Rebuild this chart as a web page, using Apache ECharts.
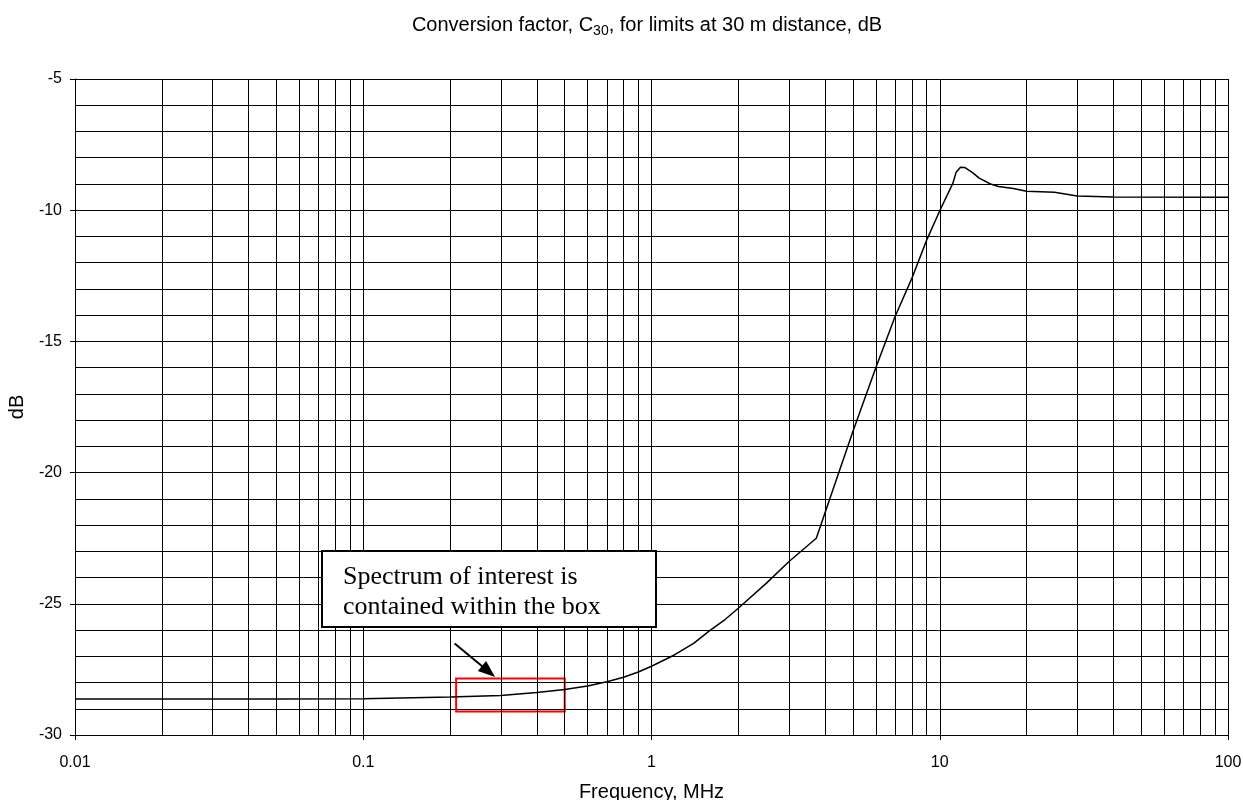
<!DOCTYPE html>
<html><head><meta charset="utf-8">
<script src="https://cdn.jsdelivr.net/npm/echarts@6/dist/echarts.min.js"></script>
<style>html,body{margin:0;padding:0;background:#fff}#c{width:1243px;height:800px}</style>
</head><body><div id="c"></div>
<script>
// ---- data ----
const freqMHz = [0.01, 0.02, 0.05, 0.1, 0.2, 0.3, 0.4, 0.5, 0.6, 0.7, 0.8, 0.9, 1, 1.2, 1.4, 1.6, 1.8, 2, 2.5, 3, 3.73, 5, 6, 7, 8, 9, 10, 11.1, 11.4, 11.8, 12.2, 13, 13.7, 15, 16, 18, 20, 25, 30, 40, 100];
const c30dB  = [-28.63, -28.63, -28.63, -28.62, -28.55, -28.49, -28.38, -28.27, -28.13, -27.97, -27.8, -27.6, -27.38, -26.95, -26.51, -26.0, -25.6, -25.17, -24.22, -23.39, -22.5, -18.42, -16.0, -14.05, -12.6, -11.15, -10.02, -8.98, -8.55, -8.36, -8.37, -8.57, -8.78, -9.0, -9.10, -9.17, -9.28, -9.32, -9.46, -9.50, -9.51];
const xTickValues = [0.01, 0.1, 1, 10, 100];
const xTickLabels = ['0.01', '0.1', '1', '10', '100'];
const xMinorGrid = [0.02, 0.03, 0.04, 0.05, 0.06, 0.07, 0.08, 0.09,
                    0.2, 0.3, 0.4, 0.5, 0.6, 0.7, 0.8, 0.9,
                    2, 3, 4, 5, 6, 7, 8, 9,
                    20, 30, 40, 50, 60, 70, 80, 90];
const yMin = -30, yMax = -5, yStep = 5;
const boxFreq = [0.21, 0.5];        // red highlight box, MHz
const boxDB = [-27.85, -29.1];      // red highlight box, dB
const arrowFrom = [0.2075, -26.51];
const arrowTo = [0.272, -27.58];
const titleMain = 'Conversion factor, C';
const titleSub = '30';
const titleRest = ', for limits at 30 m distance, dB';
const noteText = 'Spectrum of interest is\ncontained within the box';

// ---- chart ----
const SANS = '"Liberation Sans", Arial, sans-serif';
const chart = echarts.init(document.getElementById('c'), null, {renderer: 'canvas'});
const pts = freqMHz.map((f, i) => [f, c30dB[i]]);
const minorLines = xMinorGrid.map(v => ({xAxis: v}));

chart.setOption({
  animation: false,
  backgroundColor: '#fff',
  grid: {left: 75, right: 15, top: 79, bottom: 65, containLabel: false, outerBoundsMode: 'none'},
  xAxis: {
    type: 'log', logBase: 10, min: 0.01, max: 100,
    name: 'Frequency, MHz', nameLocation: 'middle', nameGap: 47,
    nameTextStyle: {fontFamily: SANS, fontSize: 20, color: '#000'},
    axisLine: {show: true, lineStyle: {color: '#000', width: 1}},
    axisTick: {show: true, inside: false, length: 5, lineStyle: {color: '#000'}},
    axisLabel: {
      margin: 20, fontFamily: SANS, fontSize: 16, color: '#000',
      formatter: function (v) {
        for (let i = 0; i < xTickValues.length; i++) {
          if (Math.abs(Math.log10(v) - Math.log10(xTickValues[i])) < 1e-6) return xTickLabels[i];
        }
        return '';
      }
    },
    splitLine: {show: true, lineStyle: {color: '#000', width: 1}},
    minorTick: {show: false},
    minorSplitLine: {show: false}
  },
  yAxis: {
    type: 'value', min: yMin, max: yMax, interval: yStep,
    name: 'dB', nameLocation: 'middle', nameGap: 43, nameRotate: 90,
    nameTextStyle: {fontFamily: SANS, fontSize: 20, color: '#000'},
    axisLine: {show: true, lineStyle: {color: '#000', width: 1}},
    axisTick: {show: true, inside: false, length: 5, lineStyle: {color: '#000'}},
    axisLabel: {margin: 13, fontFamily: SANS, fontSize: 16, color: '#000'},
    splitLine: {show: true, lineStyle: {color: '#000', width: 1}},
    minorTick: {show: false, splitNumber: 5},
    minorSplitLine: {show: true, lineStyle: {color: '#000', width: 1}}
  },
  series: [{
    type: 'line',
    data: pts,
    showSymbol: false,
    symbol: 'none',
    smooth: false,
    lineStyle: {color: '#000', width: 1.5},
    z: 5,
    silent: true,
    markLine: {
      silent: true,
      symbol: ['none', 'none'],
      label: {show: false},
      lineStyle: {color: '#000', width: 1, type: 'solid'},
      emphasis: {disabled: true},
      data: minorLines.concat([[
        {coord: arrowFrom, symbol: 'none', lineStyle: {width: 2}},
        {coord: arrowTo, symbol: 'triangle', symbolSize: [13, 17]}
      ]])
    },
    markArea: {
      silent: true,
      itemStyle: {color: 'rgba(0,0,0,0)', borderColor: '#ff0000', borderWidth: 2},
      label: {show: false},
      emphasis: {disabled: true},
      data: [[{coord: [boxFreq[0], boxDB[0]]}, {coord: [boxFreq[1], boxDB[1]]}]]
    }
  }],
  graphic: [
    {
      type: 'text', x: 647, y: 12, z: 100,
      style: {
        text: '{m|' + titleMain + '}{s|' + titleSub + '}{m|' + titleRest + '}',
        align: 'center', verticalAlign: 'top',
        rich: {
          m: {fontFamily: SANS, fontSize: 20, lineHeight: 26, fill: '#000'},
          s: {fontFamily: SANS, fontSize: 14, lineHeight: 14, verticalAlign: 'bottom', fill: '#000'}
        }
      }
    },
    {type: 'rect', z: 100, shape: {x: 322, y: 551, width: 334, height: 76},
     style: {fill: '#fff', stroke: '#000', lineWidth: 2}},
    {type: 'text', z: 101, x: 343, y: 562,
     style: {text: noteText, font: '26px "Liberation Serif", "Times New Roman", serif',
             lineHeight: 30, fill: '#000', verticalAlign: 'top', align: 'left'}}
  ]
});
</script></body></html>
